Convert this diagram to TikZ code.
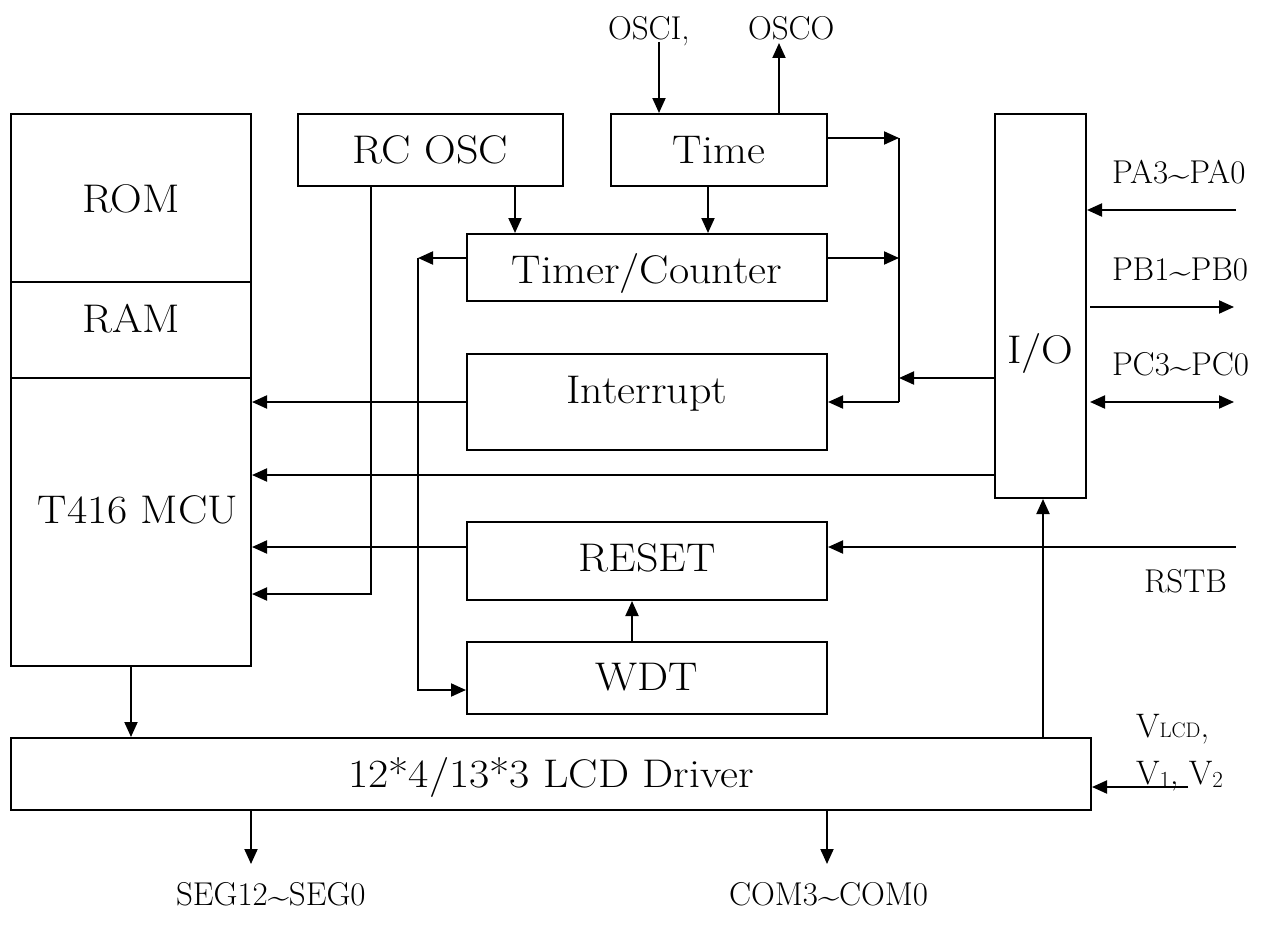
\documentclass[tikz,border=0pt]{standalone}
\usepackage{graphicx}
\usetikzlibrary{arrows.meta}
\newcommand{\tld}{\raisebox{-0.15ex}{\scalebox{1.15}[1]{\textasciitilde}}}
\newcommand{\wtxt}[1]{\scalebox{1.1}[1]{#1}}
\begin{document}
\begin{tikzpicture}[x=1pt,y=-1pt,
  line width=2pt,
  box/.style={draw, rectangle, inner sep=0pt, line width=2pt},
  btxt/.style={font=\fontsize{40}{48}\selectfont, inner sep=0pt},
  lab/.style={font=\fontsize{33}{38}\selectfont, inner sep=0pt},
  arr/.style={-{Triangle[length=15pt,width=13pt]}},
  darr/.style={{Triangle[length=15pt,width=13pt]}-{Triangle[length=15pt,width=13pt]}}]
\useasboundingbox (0,0) rectangle (1272,934);
% boxes
\node[box, minimum width=240pt, minimum height=552pt] (mcu) at (131,390) {};
\node[box, minimum width=265pt, minimum height=72pt] (rcosc) at (430.5,150) {};
\node[box, minimum width=216pt, minimum height=72pt] (time) at (719,150) {};
\node[box, minimum width=360pt, minimum height=67pt] (timer) at (647,267.5) {};
\node[box, minimum width=360pt, minimum height=96pt] (intr) at (647,402) {};
\node[box, minimum width=360pt, minimum height=78pt] (reset) at (647,561) {};
\node[box, minimum width=360pt, minimum height=72pt] (wdt) at (647,678) {};
\node[box, minimum width=91pt, minimum height=384pt] (io) at (1040.5,306) {};
\node[box, minimum width=1080pt, minimum height=72pt] (lcd) at (551,774) {};
% MCU dividers
\coordinate (d1) at (0,282);
\coordinate (d2) at (0,378);
\draw (mcu.west |- d1) -- (mcu.east |- d1);
\draw (mcu.west |- d2) -- (mcu.east |- d2);
% box texts
\node[btxt, anchor=base] (romT) at (131,212) {\wtxt{ROM}};
\node[btxt, anchor=base] (ramT) at (131,332) {\wtxt{RAM}};
\node[btxt, anchor=base] (mcuT) at (138,523) {\wtxt{T416 MCU}};
\node[btxt, anchor=base] (rcT) at (430.5,163) {\wtxt{RC OSC}};
\node[btxt, anchor=base] (timeT) at (719,163) {\wtxt{Time}};
\node[btxt, anchor=base] (timerT) at (647,283) {\wtxt{Timer/Counter}};
\node[btxt, anchor=base] (intrT) at (647,403) {\wtxt{Interrupt}};
\node[btxt, anchor=base] (resetT) at (647,571) {\wtxt{RESET}};
\node[btxt, anchor=base] (wdtT) at (647,690) {\wtxt{WDT}};
\node[btxt, anchor=base] (ioT) at (1040.5,363) {\wtxt{I/O}};
\node[btxt, anchor=base] (lcdT) at (551,787) {\wtxt{12*4/13*3 LCD Driver}};
% outside labels
\node[lab, anchor=base west] (osciL) at (607,40) {OSCI,};
\node[lab, anchor=base west] (oscoL) at (747,40) {OSCO};
\node[lab, anchor=base west] (paL) at (1111,183) {PA3\tld PA0};
\node[lab, anchor=base west] (pbL) at (1111,280) {PB1\tld PB0};
\node[lab, anchor=base west] (pcL) at (1111,375) {PC3\tld PC0};
\node[lab, anchor=base west] (rstbL) at (1143,592) {RSTB};
\node[lab, anchor=base west] (segL) at (175,905) {SEG12\tld SEG0};
\node[lab, anchor=base west] (comL) at (728,905) {COM3\tld COM0};
\node[anchor=base west, inner sep=0pt, font=\fontsize{34}{40}\selectfont] (vlcdL) at (1135,737) {V{\fontsize{21}{24}\selectfont LCD},};
\node[anchor=base west, inner sep=0pt, font=\fontsize{34}{40}\selectfont] (v12L) at (1135,784) {V\raisebox{-3pt}{\fontsize{23}{24}\selectfont 1}, V\raisebox{-3pt}{\fontsize{23}{24}\selectfont 2}};
% coordinates
\coordinate (osci) at (659,42);
\coordinate (osco) at (779,43);
\coordinate (b1) at (899,138);
\coordinate (b2) at (899,258);
\coordinate (b3) at (899,378);
\coordinate (b4) at (899,402);
\coordinate (x515) at (515,0);
\coordinate (x708) at (708,0);
\coordinate (t1) at (418,258);
\coordinate (t2) at (418,690);
\coordinate (ioy) at (0,475);
\coordinate (ry) at (0,547);
\coordinate (rc1) at (371,594);
\coordinate (x632) at (632,0);
\coordinate (rstb) at (1236,547);
\coordinate (x1043) at (1043,0);
\coordinate (x131) at (131,0);
\coordinate (seg) at (251,864);
\coordinate (com) at (827,864);
\coordinate (vend) at (1188,787);
\coordinate (pa) at (1236,210);
\coordinate (pb1) at (1090,307);
\coordinate (pb2) at (1234,307);
\coordinate (pc1) at (1090,402);
\coordinate (pc2) at (1234,402);
% connectors
\draw[arr] (osci) -- (time.north -| osci);
\draw[arr] (time.north -| osco) -- (osco);
\draw[arr] (time.east |- b1) -- (b1);
\draw[arr] (timer.east |- b2) -- (b2);
\draw (b1) -- (b4);
\draw[arr] (b4) -- (intr.east);
\draw[arr] (io.west |- b3) -- (b3);
\draw[arr] (rcosc.south -| x515) -- (timer.north -| x515);
\draw[arr] (time.south -| x708) -- (timer.north -| x708);
\draw[arr] (timer.west |- t1) -- (t1);
\draw[arr] (t1) -- (t2) -- (wdt.west |- t2);
\draw[arr] (intr.west) -- (intr.west -| mcu.east);
\draw[arr] (io.west |- ioy) -- (mcu.east |- ioy);
\draw[arr] (reset.west |- ry) -- (mcu.east |- ry);
\draw[arr] (rcosc.south -| rc1) -- (rc1) -- (mcu.east |- rc1);
\draw[arr] (wdt.north -| x632) -- (reset.south -| x632);
\draw[arr] (rstb) -- (reset.east |- rstb);
\draw[arr] (lcd.north -| x1043) -- (io.south -| x1043);
\draw[arr] (mcu.south -| x131) -- (lcd.north -| x131);
\draw[arr] (lcd.south -| seg) -- (seg);
\draw[arr] (lcd.south -| com) -- (com);
\draw[arr] (vend) -- (lcd.east |- vend);
\draw[arr] (pa) -- (io.east |- pa);
\draw[arr] (pb1) -- (pb2);
\draw[darr] (pc1) -- (pc2);
\end{tikzpicture}
\end{document}
